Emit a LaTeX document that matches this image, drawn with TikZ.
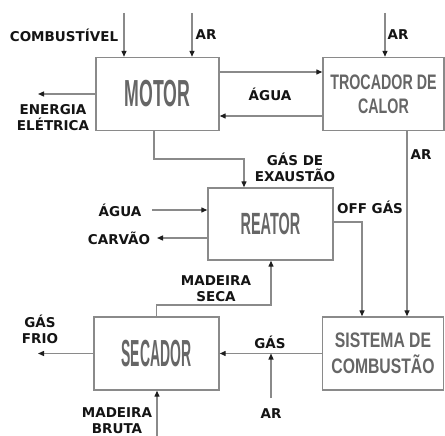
\documentclass[tikz,border=0pt]{standalone}
\usepackage{fontspec}
\setsansfont{DejaVu Sans}
\newfontfamily\narrowA[FakeStretch=0.47]{Liberation Sans}
\newfontfamily\narrowB[FakeStretch=0.37]{Liberation Sans}
\newfontfamily\narrowC[FakeStretch=0.68]{Liberation Sans}
\newfontfamily\narrowD[FakeStretch=0.75]{Liberation Sans}
\definecolor{lineGray}{HTML}{8A8A8A}
\definecolor{tipInk}{HTML}{1E1E1E}
\definecolor{boxTxt}{HTML}{666666}
\definecolor{ink}{HTML}{141414}
\usetikzlibrary{arrows.meta,positioning,calc}
\tikzset{>={Triangle[length=6pt,width=5pt,color=tipInk]},
  unit/.style={draw=lineGray,line width=1.4pt,minimum width=123pt,minimum height=73pt,
    inner sep=0pt,text=boxTxt,align=center},
  flow/.style={->,line width=1.3pt,lineGray},
  lbl/.style={font=\sffamily\bfseries\fontsize{13.5}{16}\selectfont,text=ink,align=center,inner sep=0pt}}

\begin{document}
\begin{tikzpicture}[x=1pt,y=-1pt]
  \useasboundingbox (0,0) rectangle (445,436);
  % blocos
  \node[unit,font=\narrowA\bfseries\fontsize{37.7}{40}\selectfont] (motor) at (157.5,94) {MOTOR};
  \node[unit,minimum width=121pt,font=\narrowC\bfseries\fontsize{21}{24}\selectfont] (trocador) at (383.5,94) {TROCADOR DE\\CALOR};
  \node[unit,minimum width=125pt,minimum height=72pt,font=\narrowA\bfseries\fontsize{30.7}{32}\selectfont] (reator) at (270.5,224) {REATOR};
  \node[unit,minimum width=125pt,font=\narrowB\bfseries\fontsize{37.7}{40}\selectfont] (secador) at (156.5,353.5) {SECADOR};
  \node[unit,minimum width=121pt,font=\narrowD\bfseries\fontsize{21}{26}\selectfont] (sistema) at (383,353.5) {SISTEMA DE\\COMBUST\~AO};
  % pontas livres
  \coordinate (combIn) at (124,13);
  \coordinate (arMotor) at (192,13);
  \coordinate (arTroc) at (385,13);
  \coordinate (energiaOut) at (38,94);
  \coordinate (aguaIn) at (152,210);
  \coordinate (carvaoOut) at (157,238);
  \coordinate (gasFrioOut) at (38,353.5);
  \coordinate (brutaIn) at (157,437);
  \coordinate (arGas) at (271,398);
  \coordinate (exaustTurn) at (244,159);
  \coordinate (offTurn) at (362,222);
  \coordinate (secaTurn) at (271,305);
  \coordinate (motorOut) at ([xshift=-3.5pt]motor.south);
  \coordinate (trocOut) at ([xshift=23.5pt]trocador.south);
  % fluxos
  \draw[flow] (combIn) -- (combIn |- motor.north);
  \draw[flow] (arMotor) -- (arMotor |- motor.north);
  \draw[flow] (arTroc) -- (arTroc |- trocador.north);
  \draw[flow] ([yshift=22pt]motor.east) -- ([yshift=22pt]trocador.west);
  \draw[flow] ([yshift=-22pt]trocador.west) -- ([yshift=-22pt]motor.east);
  \draw[flow] (motor.west) -- (energiaOut);
  \draw[flow] (motorOut) |- (exaustTurn) -- (exaustTurn |- reator.north);
  \draw[flow] (trocOut) -- (trocOut |- sistema.north);
  \draw[flow] (aguaIn) -- (aguaIn -| reator.west);
  \draw[flow] (carvaoOut -| reator.west) -- (carvaoOut);
  \draw[flow] (offTurn -| reator.east) -- (offTurn) -- (offTurn |- sistema.north);
  \draw[flow] (secador.north) |- (secaTurn) -- (secaTurn |- reator.south);
  \draw[flow] (sistema.west) -- (secador.east);
  \draw[flow] (arGas) -- (arGas |- sistema.west);
  \draw[flow] (secador.west) -- (gasFrioOut);
  \draw[flow] (brutaIn) -- (brutaIn |- secador.south);
  % rotulos
  \node[lbl] (combLbl) at (64,35) {COMBUSTÍVEL};
  \node[lbl] (arMotorLbl) at (206,35) {AR};
  \node[lbl] (arTrocLbl) at (398,35) {AR};
  \node[lbl] (aguaTopLbl) at (270,94) {ÁGUA};
  \node[lbl] (energiaLbl) at (53,118) {ENERGIA\\ELÉTRICA};
  \node[lbl] (arSideLbl) at (421,155) {AR};
  \node[lbl] (exaustLbl) at (295,167.5) {GÁS DE\\EXAUSTÃO};
  \node[lbl] (offLbl) at (370,207) {OFF GÁS};
  \node[lbl] (aguaLbl) at (120,210) {ÁGUA};
  \node[lbl] (carvaoLbl) at (119,238) {CARVÃO};
  \node[lbl] (secaLbl) at (216,288.5) {MADEIRA\\SECA};
  \node[lbl] (gasFrioLbl) at (40,329.5) {GÁS\\FRIO};
  \node[lbl] (gasLbl) at (270,342) {GÁS};
  \node[lbl] (arGasLbl) at (271,414) {AR};
  \node[lbl] (brutaLbl) at (117,421) {MADEIRA\\BRUTA};
\end{tikzpicture}
\end{document}
